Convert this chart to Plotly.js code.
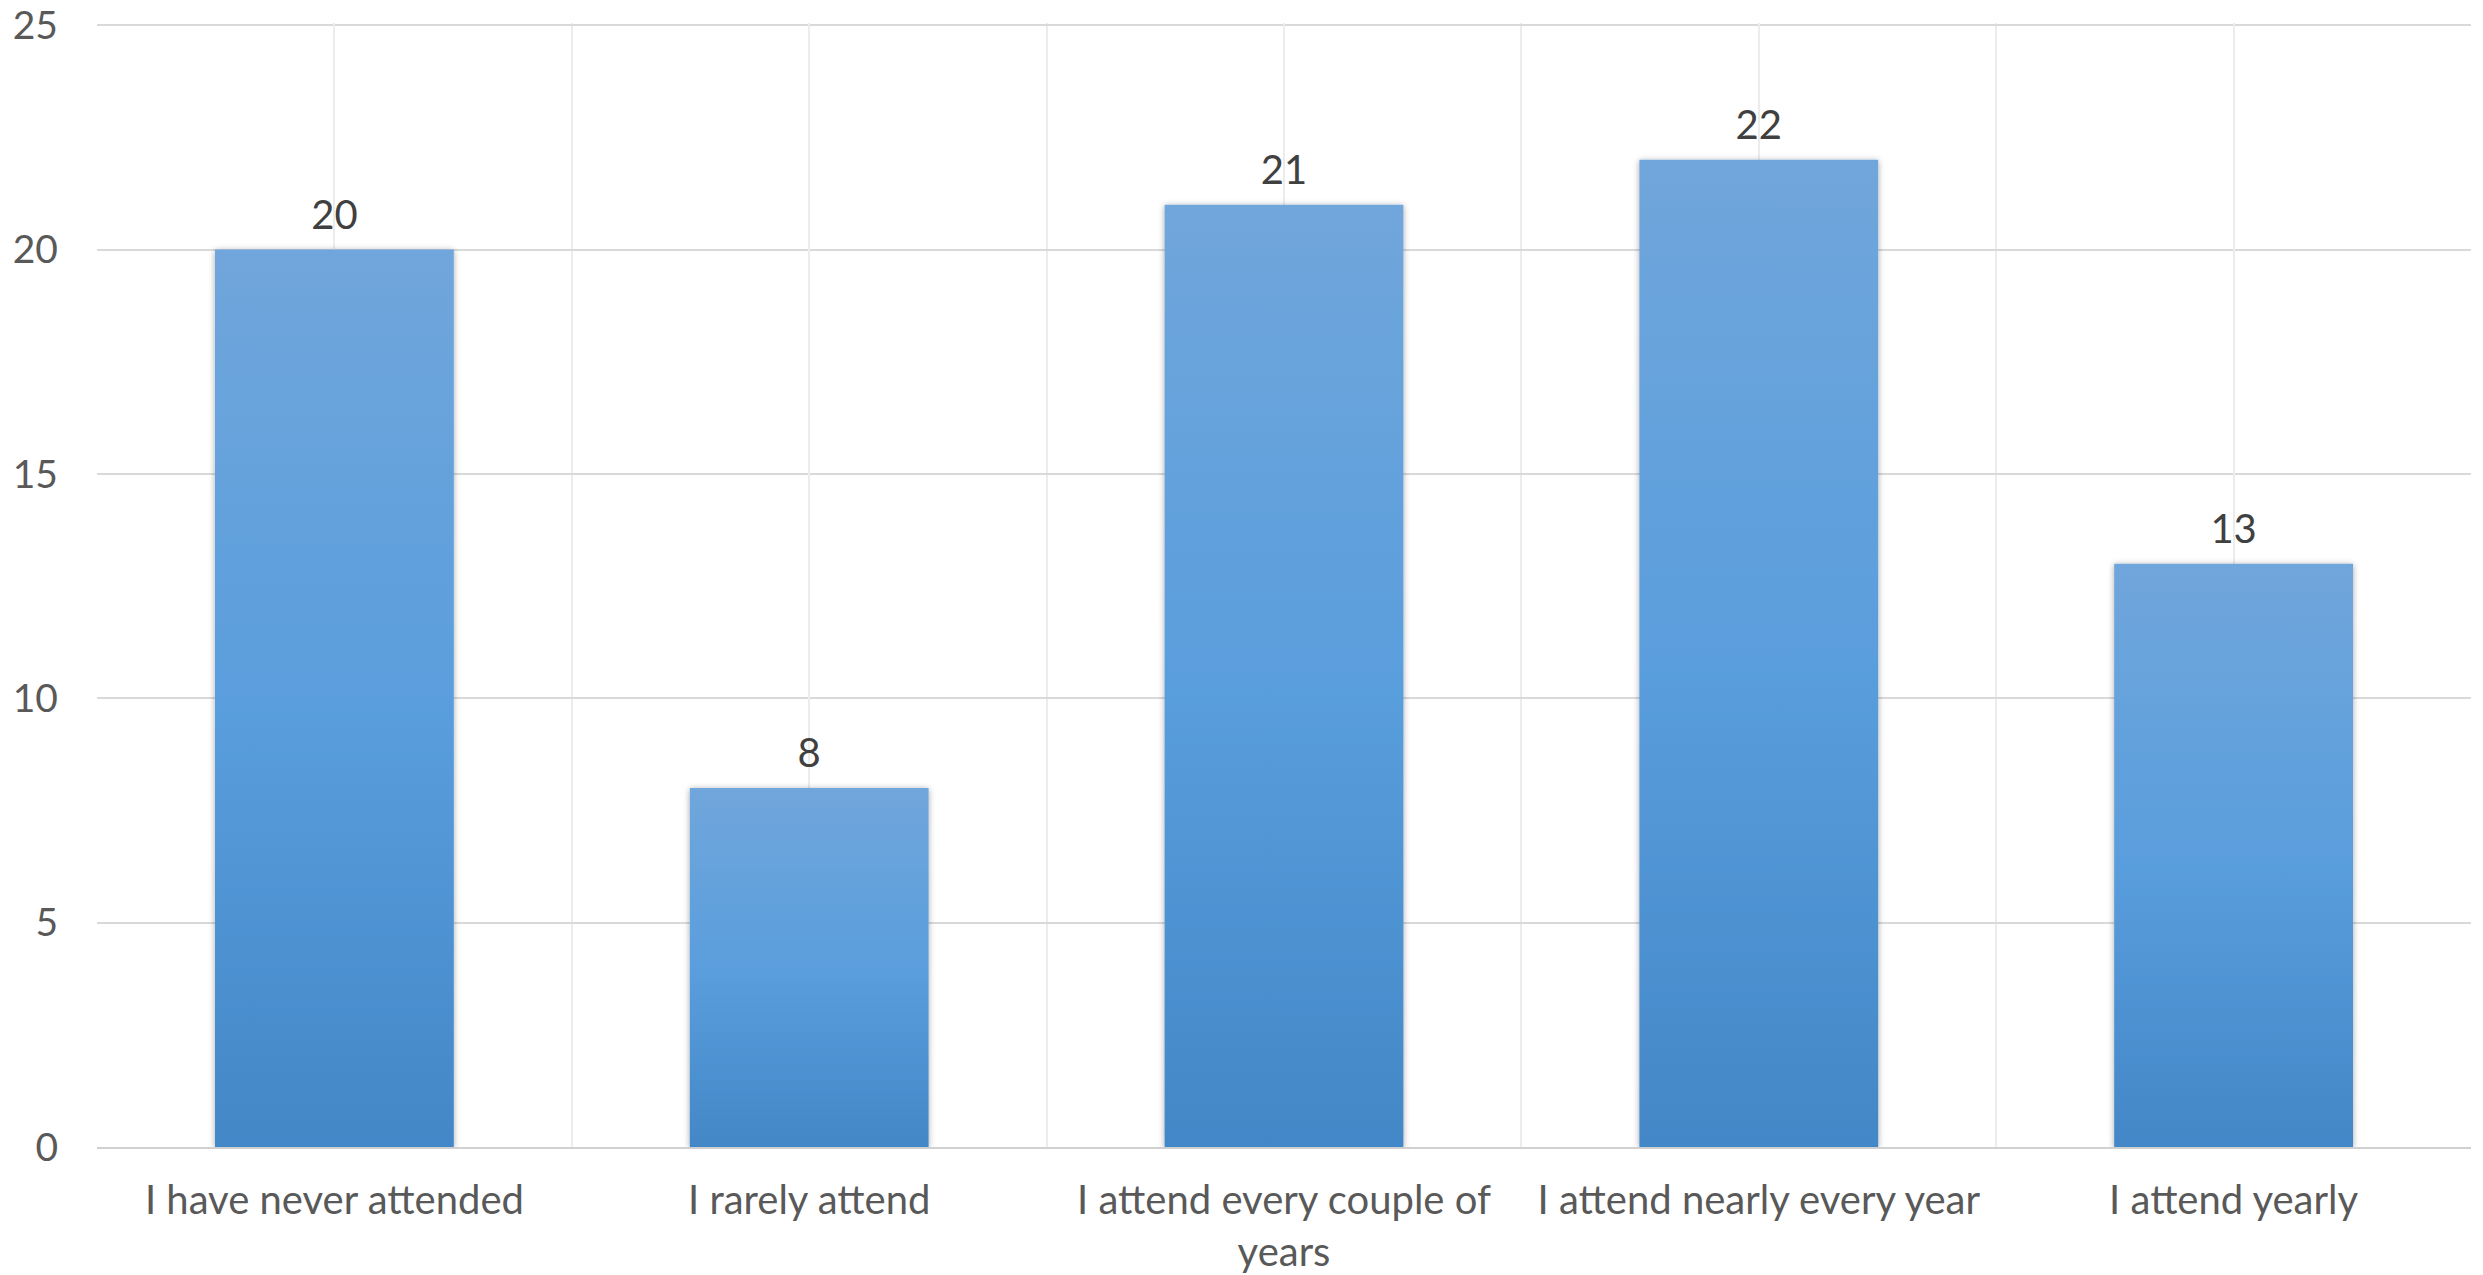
<!DOCTYPE html>
<html>
<head>
<meta charset="utf-8">
<script src="https://cdn.plot.ly/plotly-3.0.1.min.js"></script>
<style>
  html, body { margin: 0; padding: 0; background: #fff; }
  #chart { width: 2483px; height: 1275px; }
</style>
</head>
<body>
<div id="chart"></div>
<script>
const categories = [
  "I have never attended",
  "I rarely attend",
  "I attend every couple of<br>years",
  "I attend nearly every year",
  "I attend yearly"
];
const counts = [20, 8, 21, 22, 13];
const yTickValues = [0, 5, 10, 15, 20, 25];

const FONT = "Lato, Open Sans, sans-serif";

const bars = {
  type: "bar",
  x: categories,
  y: counts,
  marker: { color: "#5a9edc", line: { width: 0 } },
  hoverinfo: "x+y",
  showlegend: false
};

const valueLabels = {
  type: "scatter",
  mode: "markers+text",
  x: categories,
  y: counts,
  text: counts.map(String),
  textposition: "top center",
  textfont: { family: FONT, size: 40, color: "#404040" },
  marker: { size: 16, opacity: 0 },
  cliponaxis: false,
  hoverinfo: "skip",
  showlegend: false
};

const centerGrid = {
  type: "bar",
  x: categories,
  y: counts.map(() => null),
  xaxis: "x2",
  yaxis: "y",
  showlegend: false,
  hoverinfo: "skip"
};

const layout = {
  width: 2483,
  height: 1275,
  margin: { l: 97, r: 12, t: 23, b: 128 },
  paper_bgcolor: "#ffffff",
  plot_bgcolor: "#ffffff",
  bargap: 0.497,
  showlegend: false,
  font: { family: FONT, color: "#595959" },
  xaxis: {
    type: "category",
    tickson: "boundaries",
    showgrid: true,
    gridcolor: "#ececec",
    gridwidth: 2,
    ticks: "",
    showline: true,
    linecolor: "#d0d0d0",
    linewidth: 2,
    tickfont: { family: FONT, size: 40, color: "#595959" },
    ticklabelstandoff: 17,
    fixedrange: true
  },
  xaxis2: {
    type: "category",
    overlaying: "x",
    matches: "x",
    showgrid: true,
    gridcolor: "#ececec",
    gridwidth: 2,
    showticklabels: false,
    ticks: "",
    showline: false,
    zeroline: false
  },
  yaxis: {
    range: [0, 25.05],
    tickvals: yTickValues,
    ticktext: yTickValues.map(String),
    showgrid: true,
    gridcolor: "#d9d9d9",
    gridwidth: 2,
    zeroline: false,
    ticks: "",
    showline: false,
    tickfont: { family: FONT, size: 39, color: "#595959" },
    ticklabelstandoff: 38,
    ticklabeloverflow: "allow",
    fixedrange: true
  }
};

Plotly.newPlot("chart", [bars, centerGrid, valueLabels], layout, { displayModeBar: false, staticPlot: true }).then(function (gd) {
  const svgNS = "http://www.w3.org/2000/svg";
  const svg = gd.querySelector("svg.main-svg");
  let defs = svg.querySelector("defs");
  if (!defs) { defs = document.createElementNS(svgNS, "defs"); svg.insertBefore(defs, svg.firstChild); }
  const grad = document.createElementNS(svgNS, "linearGradient");
  grad.setAttribute("id", "barGrad");
  grad.setAttribute("x1", "0"); grad.setAttribute("y1", "0");
  grad.setAttribute("x2", "0"); grad.setAttribute("y2", "1");
  [["0%", "#70a6db"], ["50%", "#5a9edd"], ["100%", "#4387c7"]].forEach(function (s) {
    const st = document.createElementNS(svgNS, "stop");
    st.setAttribute("offset", s[0]);
    st.setAttribute("stop-color", s[1]);
    grad.appendChild(st);
  });
  defs.appendChild(grad);
  const filt = document.createElementNS(svgNS, "filter");
  filt.setAttribute("id", "barShadow");
  filt.setAttribute("x", "-10%"); filt.setAttribute("y", "-10%");
  filt.setAttribute("width", "120%"); filt.setAttribute("height", "120%");
  const ds = document.createElementNS(svgNS, "feDropShadow");
  ds.setAttribute("dx", "0"); ds.setAttribute("dy", "1");
  ds.setAttribute("stdDeviation", "3");
  ds.setAttribute("flood-color", "#000000");
  ds.setAttribute("flood-opacity", "0.35");
  filt.appendChild(ds);
  defs.appendChild(filt);
  gd.querySelectorAll(".trace.bars .point path").forEach(function (p) {
    p.style.fill = "url(#barGrad)";
    p.setAttribute("filter", "url(#barShadow)");
  });
});
</script>
</body>
</html>
